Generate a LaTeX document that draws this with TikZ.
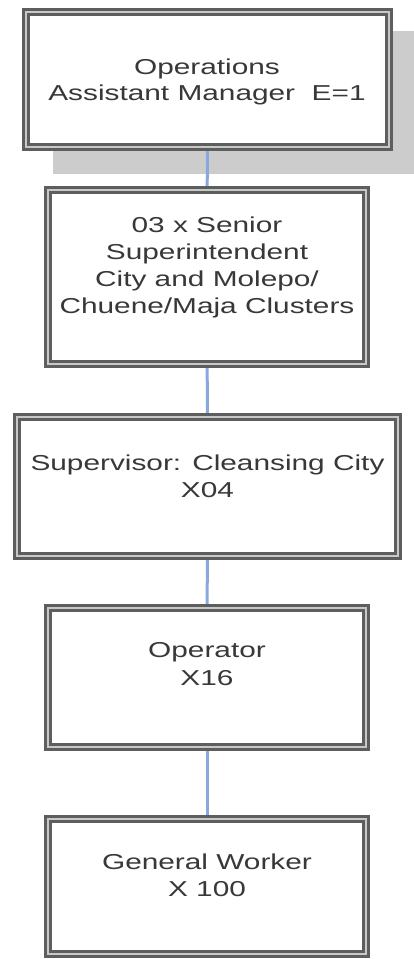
\documentclass[tikz,border=0pt]{standalone}
\usepackage{fontspec}
\setmainfont{Liberation Sans}[FakeStretch=1.38]
\usetikzlibrary{backgrounds}

\definecolor{frame}{HTML}{5E5E5E}
\definecolor{framegap}{HTML}{C8C8C8}
\definecolor{shadowgray}{HTML}{CCCCCC}
\definecolor{link}{RGB}{138,168,222}
\definecolor{ink}{HTML}{383838}

\tikzset{
  post/.style={draw=frame, line width=2.6pt, double=framegap, double distance=2.6pt,
    fill=white, rectangle, inner sep=0pt},
  lbl/.style={anchor=base, inner sep=0pt, text=ink,
    font=\fontsize{21.6pt}{27pt}\selectfont},
  conn/.style={draw=link, line width=3pt}
}

\begin{document}
\begin{tikzpicture}[x=1pt, y=-1pt]
\useasboundingbox (0,0) rectangle (414,959);

% boxes: outer edge minus 7.8pt of double border
\node[post, minimum width=363.2pt, minimum height=135.2pt] (b1) at (207.5,79.5) {};
\node[post, minimum width=318.2pt, minimum height=174.2pt] (b2) at (207,277) {};
\node[post, minimum width=381.2pt, minimum height=139.2pt] (b3) at (207.5,486.5) {};
\node[post, minimum width=318.2pt, minimum height=139.2pt] (b4) at (207,677.5) {};
\node[post, minimum width=318.2pt, minimum height=135.2pt] (b5) at (207,886.5) {};

\begin{scope}[on background layer]
  % drop shadow of the top box
  \fill[shadowgray] (53,31) rectangle (414,174);
  % reporting lines
  \draw[conn] (b1.center) -- (b2.center);
  \draw[conn] (b2.center) -- (b3.center);
  \draw[conn] (b3.center) -- (b4.center);
  \draw[conn] (b4.center) -- (b5.center);
\end{scope}

% labels
\node[lbl] (t1a) at (207,74)  {Operations};
\node[lbl] (t1b) at (207,100) {Assistant Manager\ \ E=1};

\node[lbl] (t2a) at (207,232) {03 x Senior};
\node[lbl] (t2b) at (207,259) {Superintendent};
\node[lbl] (t2c) at (207,286) {City and Molepo/};
\node[lbl] (t2d) at (207,313) {Chuene/Maja Clusters};

\node[lbl] (t3a) at (207.5,470) {Supervisor: Cleansing\ City};
\node[lbl] (t3b) at (207.5,497) {X04};

\node[lbl] (t4a) at (207,657) {Operator};
\node[lbl] (t4b) at (207,685) {X16};

\node[lbl] (t5a) at (207,869) {General Worker};
\node[lbl] (t5b) at (207,896) {X 100};
\end{tikzpicture}
\end{document}
